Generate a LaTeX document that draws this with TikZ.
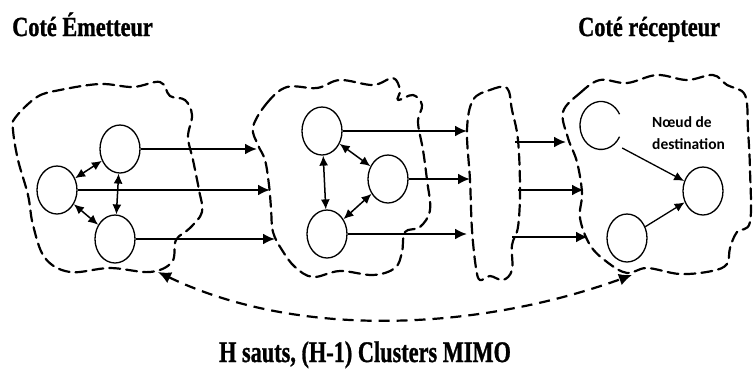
\documentclass[tikz,border=0pt]{standalone}
\usepackage{fontspec}
\usepackage{graphicx}
\setmainfont{Liberation Serif}
\newfontfamily\heavyfont{Liberation Serif Bold}[FakeBold=1.2]
\newfontfamily\smallsans{Carlito}
\usetikzlibrary{arrows.meta,shapes.geometric}
\tikzset{
  blob/.style={line width=2.2pt, dash pattern=on 11pt off 6pt, line join=round, line cap=round},
  circ/.style={ellipse, draw, line width=1.3pt, minimum width=40pt, minimum height=48pt, inner sep=0pt},
  hidden/.style={ellipse, minimum width=42pt, minimum height=48pt, inner sep=0pt},
  flow/.style={line width=2.2pt, -{Latex[length=12pt,width=11pt]}},
  dbl/.style={line width=1.5pt, {Latex[length=10pt,width=9pt]}-{Latex[length=10pt,width=9pt]}},
  thin/.style={line width=1.3pt, -{Latex[length=10pt,width=9pt]}},
  bigtxt/.style={font=\heavyfont\fontsize{23}{27}\selectfont, inner sep=0pt},
}
\begin{document}
\begin{tikzpicture}[x=1pt,y=-1pt]
\useasboundingbox (0,0) rectangle (753,368);

% titles
\node[bigtxt, anchor=base west] (tL) at (12,36) {\scalebox{0.97}[1.2]{Coté Émetteur}};
\node[bigtxt, anchor=base west] (tR) at (578,36) {\scalebox{0.97}[1.2]{Coté récepteur}};
\node[bigtxt, anchor=base] (tB) at (365,362) {\scalebox{0.97}[1.3]{H sauts, (H-1) Clusters MIMO}};

% dashed clusters
\draw[blob] plot[smooth cycle, tension=0.6] coordinates {
 (15,118) (37,97) (60,90) (100,84) (133,87) (160,82) (170,96) (185,100) (192,115)
 (188,137) (193,160) (199,190) (202,212) (190,228) (176,240) (172,262) (150,272)
 (110,268) (70,272) (45,258) (33,225) (28,195) (18,160) (13,130)};
\draw[blob] plot[smooth cycle, tension=0.6] coordinates {
 (253,127) (267,103) (287,87) (317,88) (340,80) (373,85) (393,78) (400,90) (398,100)
 (413,95) (422,105) (418,122) (423,150) (427,180) (430,210) (420,227) (405,232)
 (402,252) (395,268) (373,275) (340,271) (313,277) (295,267) (282,250) (273,232)
 (271,208) (269,185) (265,160) (258,145)};
\draw[blob] plot[smooth cycle, tension=0.6] coordinates {
 (473,100) (490,90) (507,88) (512,110) (518,140) (520,190) (518,227) (512,245)
 (512,270) (503,280) (490,276) (480,280) (476,268) (472,230) (470,180) (467,130)};
\draw[blob] plot[smooth cycle, tension=0.6] coordinates {
 (563,112) (580,93) (600,80) (627,83) (657,75) (687,80) (713,75) (727,85) (745,95)
 (748,130) (750,170) (750,222) (737,232) (730,248) (727,264) (712,271) (680,274)
 (647,268) (627,273) (607,262) (590,245) (580,218) (582,193) (577,162) (568,138)};

% cluster 1
\node[circ] (c1a) at (57,190) {};
\node[circ] (c1b) at (120,149) {};
\node[circ] (c1c) at (115,239) {};
% cluster 2
\node[circ] (c2a) at (322,131) {};
\node[circ] (c2b) at (388,179) {};
\node[circ] (c2c) at (327,234) {};
% cluster 3
\node[hidden] (c3a) at (601,148) {};
\draw[line width=1.3pt] (601,148) ++(28:21pt and 24pt) arc[start angle=28, end angle=332, x radius=21, y radius=24];
\node[circ] (c3d) at (703,191) {};
\node[circ] (c3b) at (627,238) {};

\node[font=\smallsans\bfseries\fontsize{15.5}{22}\selectfont, align=left, inner sep=0pt, anchor=north west] (lbl) at (652,116) {Nœud de\\destination};

% internal links
\draw[dbl] (c1a) -- (c1b);
\draw[dbl] (c1b) -- (c1c);
\draw[dbl] (c1a) -- (c1c);
\draw[dbl] (c2a) -- (c2c);
\draw[dbl] (c2a) -- (c2b);
\draw[dbl] (c2c) -- (c2b);
\draw[thin] (c3a.east) -- (c3d);
\draw[thin] (c3b) -- (c3d);

% flows
\coordinate (e1) at (257,149);
\coordinate (e2) at (270,190);
\coordinate (e3) at (275,239);
\draw[flow] (c1b.east) -- (e1);
\draw[flow] (c1a.east) -- (e2);
\draw[flow] (c1c.east) -- (e3);
\coordinate (f1) at (467,131);
\coordinate (f2) at (470,179);
\coordinate (f3) at (467,234);
\draw[flow] (c2a.east) -- (f1);
\draw[flow] (c2b.east) -- (f2);
\draw[flow] (c2c.east) -- (f3);
\coordinate (g1s) at (515,142);
\coordinate (g1e) at (566,142);
\coordinate (g2s) at (518,190);
\coordinate (g2e) at (584,190);
\coordinate (g3s) at (512,237);
\coordinate (g3e) at (588,237);
\draw[flow] (g1s) -- (g1e);
\draw[flow] (g2s) -- (g2e);
\draw[flow] (g3s) -- (g3e);

% hops arrow
\coordinate (h1) at (158,272);
\coordinate (h2) at (632,275);
\draw[line width=2.2pt, dash pattern=on 11pt off 7pt, {Latex[length=13pt,width=12pt]}-{Latex[length=13pt,width=12pt]}]
  (h1) .. controls (300,340) and (480,330) .. (h2);
\end{tikzpicture}
\end{document}
